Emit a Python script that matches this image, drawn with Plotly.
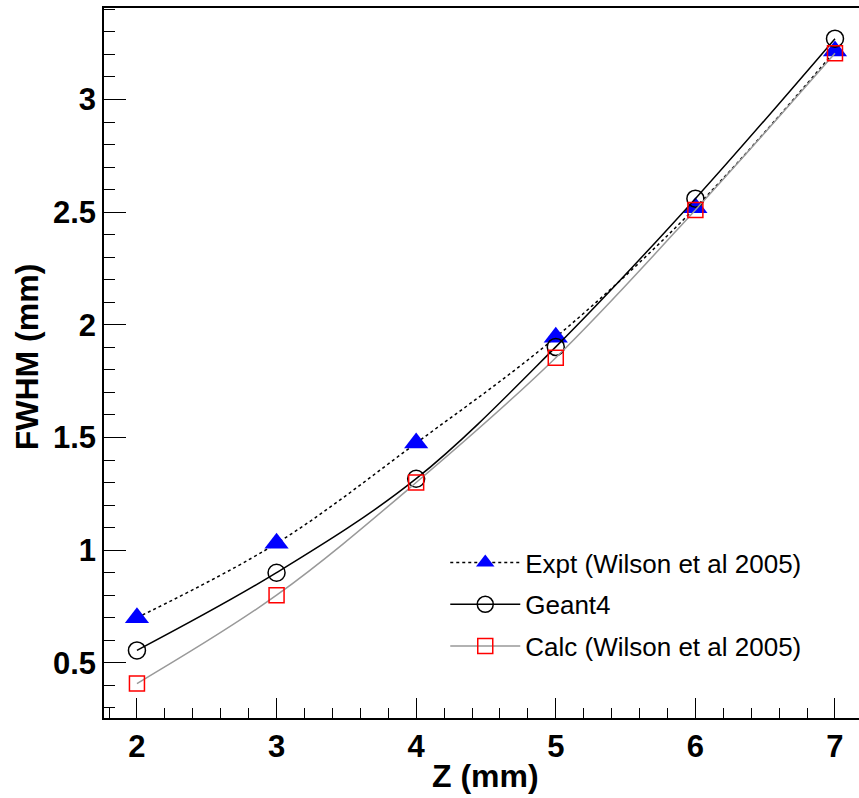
import plotly.graph_objects as go

z_mm = [2, 3, 4, 5, 6, 7]
expt_fwhm = [0.70, 1.03, 1.475, 1.945, 2.52, 3.215]
geant4_fwhm = [0.555, 0.90, 1.317, 1.902, 2.56, 3.27]
calc_fwhm = [0.408, 0.80, 1.30, 1.854, 2.51, 3.205]

names = ["Expt (Wilson et al 2005)", "Geant4", "Calc (Wilson et al 2005)"]
x_title = "Z (mm)"
y_title = "FWHM (mm)"

fig = go.Figure()
fig.add_trace(go.Scatter(
    x=z_mm, y=expt_fwhm, name=names[0], mode="lines+markers", legendgroup="a",
    line=dict(color="black", width=1.5, dash="dot", shape="spline"),
    marker=dict(symbol="triangle-up", size=21, color="#0000ff", line=dict(width=0)),
))
fig.add_trace(go.Scatter(
    x=z_mm, y=geant4_fwhm, name=names[1], mode="lines+markers", legendgroup="b",
    line=dict(color="black", width=1.5, shape="spline"),
    marker=dict(symbol="circle-open", size=17, color="black", line=dict(width=1.5, color="black")),
))
fig.add_trace(go.Scatter(
    x=z_mm, y=calc_fwhm, name=names[2], mode="lines+markers", legendgroup="c",
    line=dict(color="#999999", width=1.5, shape="spline"),
    marker=dict(symbol="square-open", size=15, color="#ff0000", line=dict(width=1.5, color="#ff0000")),
))

tickfont = dict(family="Liberation Sans, Arial, sans-serif", size=31, color="black", weight="bold")
titlefont = dict(family="Liberation Sans, Arial, sans-serif", size=32, color="black", weight="bold")

fig.update_layout(
    width=859, height=798,
    margin=dict(l=104, r=0, t=8, b=80, autoexpand=False),
    paper_bgcolor="white", plot_bgcolor="white",
    showlegend=True,
    legend=dict(
        x=0.452, y=0.252, xanchor="left", yanchor="top",
        font=dict(family="Liberation Sans, Arial, sans-serif", size=26, color="black"),
        bgcolor="rgba(0,0,0,0)", itemwidth=70, tracegroupgap=5,
    ),
    xaxis=dict(
        range=[1.764, 7.172], showgrid=False, zeroline=False,
        showline=True, linecolor="black", linewidth=1.5, mirror=True,
        ticks="inside", ticklen=20, tickwidth=1.2, tickcolor="black",
        tick0=0, dtick=1, tickfont=tickfont,
        minor=dict(dtick=0.2, ticks="inside", ticklen=10, tickwidth=1.2, tickcolor="black"),
    ),
    yaxis=dict(
        range=[0.255, 3.406], showgrid=False, zeroline=False,
        showline=True, linecolor="black", linewidth=1.5, mirror=False,
        ticks="inside", ticklen=22, tickwidth=1.2, tickcolor="black",
        tick0=0, dtick=0.5, tickfont=tickfont,
        minor=dict(dtick=0.1, ticks="inside", ticklen=11, tickwidth=1.2, tickcolor="black"),
    ),
    annotations=[
        dict(text=x_title, xref="paper", yref="paper", x=0.505, y=0, yshift=-58,
             xanchor="center", yanchor="middle", showarrow=False, font=titlefont),
        dict(text=y_title, xref="paper", yref="paper", x=0, xshift=-77, y=0.508,
             xanchor="center", yanchor="middle", showarrow=False, textangle=-90, font=titlefont),
    ],
)

fig.write_html("out.html")
